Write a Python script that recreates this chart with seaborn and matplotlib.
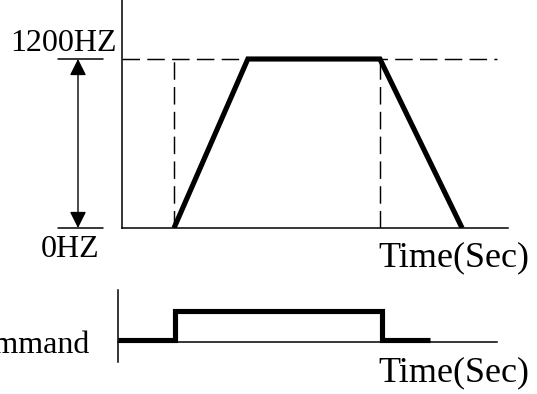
import matplotlib
matplotlib.use("Agg")
import matplotlib.pyplot as plt
import seaborn as sns
import numpy as np

# ---- data ----
# frequency profile (time in arbitrary sec units, frequency in Hz)
time_freq = [1.0, 2.42, 4.96, 6.54]
freq_hz = [0, 1200, 1200, 0]
max_freq = 1200
dash_times = [1.0, 4.96]

# run command (0 = off, 1 = on)
time_cmd = [-0.077, 1.02, 1.02, 5.0, 5.0, 5.92]
cmd_val = [0, 0, 1, 1, 0, 0]

label_top = "1200HZ"
label_zero = "0HZ"
label_time = "Time(Sec)"
label_cmd = "Command"

sns.set_style("white")
plt.rcParams["font.family"] = ["Liberation Serif", "DejaVu Serif"]
plt.rcParams["text.color"] = "black"

W, H = 537, 394
fig = plt.figure(figsize=(W / 100, H / 100), dpi=100)

def fx(px):
    return px / W

def fy(py):
    return 1 - py / H

BLACK = "black"
THICK = 3.7
AXLW = 1.1
FS = 23
FS_TIME = 26

# ---- top panel ----
x0, x1, ytop, ybot = 122, 508, 0, 228
ax = fig.add_axes([fx(x0), fy(ybot), (x1 - x0) / W, (ybot - ytop) / H])
px_per_t = 52.0
px_per_hz = 169.0 / 1200
ax.set_xlim(0, (x1 - x0) / px_per_t)
ax.set_ylim(0, (ybot - ytop) / px_per_hz)
for s in ["top", "right"]:
    ax.spines[s].set_visible(False)
for s in ["left", "bottom"]:
    ax.spines[s].set_linewidth(AXLW)
    ax.spines[s].set_color(BLACK)
ax.set_xticks([])
ax.set_yticks([])
ax.patch.set_alpha(0)

dash = (12, 5)
ax.plot([0, (497 - x0) / px_per_t], [max_freq, max_freq], color=BLACK, lw=1.05,
        dashes=dash)
for t in dash_times:
    ax.plot([t, t], [0, max_freq], color=BLACK, lw=1.05, dashes=dash)

sns.lineplot(x=time_freq, y=freq_hz, ax=ax, color=BLACK, lw=THICK,
             estimator=None, sort=False, solid_joinstyle="miter",
             solid_capstyle="butt")

# left annotation: level marks and double arrow
tl, tr = (58 - x0) / px_per_t, (103 - x0) / px_per_t
ta = (78 - x0) / px_per_t
for lv in [0, max_freq]:
    ax.plot([tl, tr], [lv, lv], color=BLACK, lw=AXLW, clip_on=False)
ax.annotate("", xy=(ta, max_freq), xytext=(ta, 0),
            arrowprops=dict(arrowstyle="<|-|>,head_length=0.5,head_width=0.25",
                            mutation_scale=20, color=BLACK, lw=1.0,
                            shrinkA=0, shrinkB=0),
            annotation_clip=False)

fig.text(fx(63.5), fy(51), label_top, ha="center", va="baseline", fontsize=FS,
         color=BLACK)
fig.text(fx(70), fy(257), label_zero, ha="center", va="baseline", fontsize=FS,
         color=BLACK)
fig.text(fx(529), fy(266), label_time, ha="right", va="baseline",
         fontsize=FS_TIME, color=BLACK)

# ---- bottom panel ----
bx0, bx1, by0, by1 = 118, 497, 290, 362
ax2 = fig.add_axes([fx(bx0), fy(by1), (bx1 - bx0) / W, (by1 - by0) / H])
ax2.set_xlim((bx0 - x0) / px_per_t, (bx1 - x0) / px_per_t)
low_px, px_per_cmd = 339.5, 28.5
ax2.set_ylim((low_px - by1) / px_per_cmd, (low_px - by0) / px_per_cmd)
for s in ["top", "right"]:
    ax2.spines[s].set_visible(False)
for s in ["left", "bottom"]:
    ax2.spines[s].set_linewidth(AXLW)
    ax2.spines[s].set_color(BLACK)
ax2.spines["bottom"].set_position(("data", (low_px - 342) / px_per_cmd))
ax2.set_xticks([])
ax2.set_yticks([])
ax2.patch.set_alpha(0)

sns.lineplot(x=time_cmd, y=cmd_val, ax=ax2, color=BLACK, lw=THICK,
             estimator=None, sort=False, solid_joinstyle="miter",
             solid_capstyle="butt")

fig.text(fx(90), fy(353), label_cmd, ha="right", va="baseline", fontsize=FS,
         color=BLACK)
fig.text(fx(529), fy(381), label_time, ha="right", va="baseline",
         fontsize=FS_TIME, color=BLACK)

fig.savefig("out.png", dpi=100)
